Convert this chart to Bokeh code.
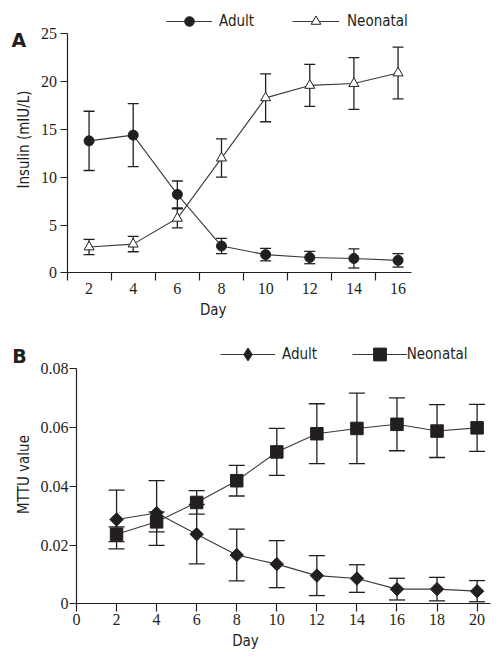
import numpy as np
from bokeh.plotting import figure
from bokeh.layouts import column
from bokeh.models import (ColumnDataSource, Range1d, Whisker, TeeHead, FixedTicker,
                          Legend, LegendItem)
from bokeh.core.properties import value
from bokeh.embed import file_html
from bokeh.resources import INLINE

# ---------------- data ----------------
days_a = [2, 4, 6, 8, 10, 12, 14, 16]
adult_insulin = [13.8, 14.4, 8.2, 2.8, 1.9, 1.6, 1.5, 1.3]
adult_insulin_sd = [3.1, 3.3, 1.4, 0.8, 0.65, 0.65, 1.0, 0.7]
neo_insulin = [2.7, 3.0, 5.7, 12.0, 18.3, 19.6, 19.8, 20.9]
neo_insulin_sd = [0.8, 0.8, 1.0, 2.0, 2.5, 2.2, 2.7, 2.7]
insulin_ticks = [0, 5, 10, 15, 20, 25]
day_ticks_a = [2, 4, 6, 8, 10, 12, 14, 16]
day_sep_a = [1, 3, 5, 7, 9, 11, 13, 15]

days_b = [2, 4, 6, 8, 10, 12, 14, 16, 18, 20]
adult_mttu = [0.0287, 0.0309, 0.0237, 0.0166, 0.0135, 0.0096, 0.0086, 0.0050, 0.0050, 0.0043]
adult_mttu_sd = [0.0100, 0.0110, 0.0101, 0.0088, 0.0080, 0.0068, 0.0047, 0.0037, 0.0040, 0.0036]
neo_mttu = [0.0237, 0.0279, 0.0345, 0.0419, 0.0517, 0.0579, 0.0597, 0.0611, 0.0588, 0.0599]
neo_mttu_sd = [0.0025, 0.0034, 0.0040, 0.0052, 0.0080, 0.0102, 0.0120, 0.0090, 0.0090, 0.0080]
mttu_ticks = [0, 0.02, 0.04, 0.06, 0.08]
mttu_tick_labels = ["0", "0.02", "0.04", "0.06", "0.08"]
day_ticks_b = [0, 2, 4, 6, 8, 10, 12, 14, 16, 18, 20]

# ---------------- style ----------------
INK = "#231f20"
SANS = "DejaVu Sans Condensed"
SERIF = "Liberation Serif"
W = 494


class Panel:
    """Figure whose plotting frame fills the whole canvas; axes are pinned inside."""

    def __init__(self, h, x0_px, x0_val, px_per_x, y0_px, y0_val, px_per_y):
        self.h = h
        self.x0_px, self.x0_val, self.kx = x0_px, x0_val, px_per_x
        self.y0_px, self.y0_val, self.ky = y0_px, y0_val, px_per_y
        xr = Range1d(self.dx(0), self.dx(W))
        yr = Range1d(self.dy(h), self.dy(0))
        p = figure(width=W, height=h, x_range=xr, y_range=yr,
                   output_backend="svg", toolbar_location=None,
                   min_border_left=0, min_border_bottom=0,
                   min_border_top=0, min_border_right=0)
        p.outline_line_color = None
        p.xgrid.visible = False
        p.ygrid.visible = False
        p.background_fill_color = "white"
        p.border_fill_color = "white"
        self.p = p

    # canvas pixel -> data value
    def dx(self, px):
        return self.x0_val + (px - self.x0_px) / self.kx

    def dy(self, py):
        return self.y0_val + (self.y0_px - py) / self.ky

    def text(self, px, py, s, size="15px", angle=0.0, align="center",
             baseline="middle", font=SANS, style="normal"):
        self.p.text(x=[self.dx(px)], y=[self.dy(py)], text=[s], angle=angle,
                    text_align=align, text_baseline=baseline,
                    text_font=value(font), text_font_size=size,
                    text_font_style=style, text_color=INK)

    def legend(self, label, renderers, px, py_center, glyph_w, glyph_h, standoff):
        lg = Legend(items=[LegendItem(label=label, renderers=renderers)],
                    location=(px, self.h - py_center - glyph_h / 2),
                    orientation="horizontal",
                    glyph_width=glyph_w, glyph_height=glyph_h, label_height=glyph_h,
                    label_standoff=standoff, padding=0, margin=0, spacing=0,
                    border_line_color=None, background_fill_alpha=0,
                    label_text_font=SANS, label_text_font_size="15px",
                    label_text_color=INK)
        self.p.add_layout(lg)


def style_axis(ax, tick_out, standoff, loc, bounds):
    ax.fixed_location = loc
    ax.bounds = bounds
    ax.axis_line_color = INK
    ax.axis_line_width = 1.2
    ax.major_tick_line_color = INK
    ax.major_tick_line_width = 1.2
    ax.minor_tick_line_color = INK
    ax.minor_tick_line_width = 1.2
    ax.major_tick_in = 0
    ax.minor_tick_in = 0
    ax.major_tick_out = tick_out
    ax.minor_tick_out = 0
    ax.major_label_text_font = SERIF
    ax.major_label_text_font_size = "16px"
    ax.major_label_text_color = INK
    ax.major_label_standoff = standoff


def add_series(p, x, y, sd, marker, size, fill, cap, angle=0.0):
    y = np.array(y)
    sd = np.array(sd)
    src = ColumnDataSource(dict(x=x, y=y, upper=y + sd, lower=y - sd))
    w = Whisker(source=src, base="x", upper="upper", lower="lower",
                line_color=INK, line_width=1.3,
                upper_head=TeeHead(size=cap, line_color=INK, line_width=1.3),
                lower_head=TeeHead(size=cap, line_color=INK, line_width=1.3))
    p.add_layout(w)
    ln = p.line("x", "y", source=src, line_color="#3a3a3a", line_width=1.1)
    mk = p.scatter("x", "y", source=src, marker=marker, size=size, angle=angle,
                   fill_color=fill, line_color=INK, line_width=1.0)
    return ln, mk

# ---------------- panel A ----------------
A = Panel(330, x0_px=66.5, x0_val=1, px_per_x=22.07, y0_px=272.3, y0_val=0, px_per_y=9.56)
pA = A.p
ax = pA.xaxis[0]
style_axis(ax, 0, 2, 0, (1, 16.6))
ax.ticker = FixedTicker(ticks=day_ticks_a, minor_ticks=day_sep_a)
ax.minor_tick_out = 8
ay = pA.yaxis[0]
style_axis(ay, 7, 3, 1, (0, 25))
ay.ticker = FixedTicker(ticks=insulin_ticks)

la, ma = add_series(pA, days_a, adult_insulin, adult_insulin_sd, "circle", 10, INK, 11)
ln_, mn_ = add_series(pA, days_a, neo_insulin, neo_insulin_sd, "triangle", 10, "white", 11)
A.legend("Adult", [la, ma], 166, 20.7, 46, 24, 7)
A.legend("Neonatal", [ln_, mn_], 292, 20.7, 47, 24, 8)

A.text(11, 39, "A", size="19px", align="left", baseline="alphabetic",
       font="DejaVu Sans", style="bold")
A.text(23.3, 139, "Insulin (mIU/L)", angle=np.pi / 2)
A.text(212.7, 309, "Day")

# ---------------- panel B ----------------
B = Panel(321, x0_px=76, x0_val=0, px_per_x=20.03, y0_px=273.3, y0_val=0, px_per_y=2937.5)
pB = B.p
bx = pB.xaxis[0]
style_axis(bx, 8, 2, 0, (0, 20.67))
bx.ticker = FixedTicker(ticks=day_ticks_b)
by = pB.yaxis[0]
style_axis(by, 7, 1, 0, (0, 0.08))
by.ticker = FixedTicker(ticks=mttu_ticks)
by.major_label_overrides = {t: s for t, s in zip(mttu_ticks, mttu_tick_labels)}

lb_a, mb_a = add_series(pB, days_b, adult_mttu, adult_mttu_sd, "square", 9.5, INK, 16,
                        angle=np.pi / 4)
lb_n, mb_n = add_series(pB, days_b, neo_mttu, neo_mttu_sd, "square", 12.5, INK, 16)
# legend key for the diamond (legend glyphs are drawn unrotated); no plotted point
key_diamond = pB.scatter(x=[np.nan], y=[np.nan], marker="diamond", size=12,
                         fill_color=INK, line_color=INK)
B.legend("Adult", [lb_a, key_diamond], 220, 24, 55, 32, 7)
B.legend("Neonatal", [lb_n, mb_n], 351.7, 24, 55, 32, 0)

B.text(11.7, 25, "B", size="19px", align="left", baseline="alphabetic",
       font="DejaVu Sans", style="bold")
B.text(23, 144, "MTTU value", angle=np.pi / 2)
B.text(245, 310.5, "Day")

layout = column(pA, pB, spacing=0)
open("out.html", "w").write(file_html(layout, INLINE))
